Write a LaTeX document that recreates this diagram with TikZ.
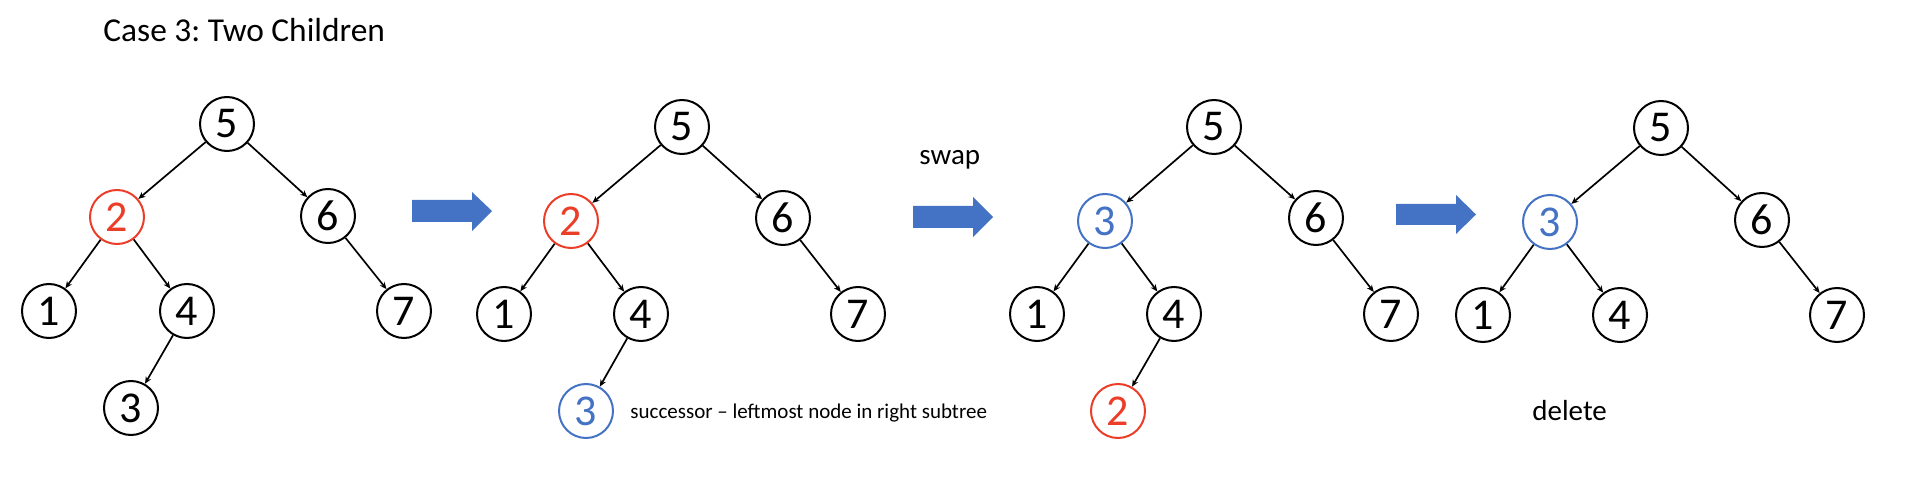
\documentclass[tikz,border=0pt]{standalone}
\usepackage{fontspec}
\setmainfont{Carlito}
\usetikzlibrary{arrows.meta}
\frenchspacing
\definecolor{redc}{RGB}{235,61,40}
\definecolor{bluec}{RGB}{68,114,196}
\tikzset{
  tn/.style={circle,draw=black,line width=1pt,minimum size=27pt,inner sep=0pt,font=\fontsize{22}{22}\selectfont},
  rednode/.style={tn,draw=redc,text=redc},
  bluenode/.style={tn,draw=bluec,text=bluec},
  edge/.style={line width=0.85pt,-{Stealth[length=3.5pt,width=3pt]}},
  lbl/.style={anchor=base west,inner sep=0pt},
  blockarrow/.style={fill=bluec,draw=none}
}
\begin{document}
\begin{tikzpicture}[x=0.5pt,y=-0.5pt]
\useasboundingbox (0,0) rectangle (1910,486);
% title
\node[lbl,font=\fontsize{16.7}{20}\selectfont] (title) at (103,42) {Case 3: Two Children};
% tree 1
\node[tn] (a5) at (227,124) {5};
\node[rednode] (a2) at (117,217) {2};
\node[tn] (a6) at (328,216) {6};
\node[tn] (a1) at (49,311) {1};
\node[tn] (a4) at (187,311) {4};
\node[tn] (a7) at (404,311) {7};
\node[tn] (a3) at (131,408) {3};
\draw[edge] (a5) -- (a2);
\draw[edge] (a5) -- (a6);
\draw[edge] (a2) -- (a1);
\draw[edge] (a2) -- (a4);
\draw[edge] (a6) -- (a7);
\draw[edge] (a4) -- (a3);
% arrow 1
\fill[blockarrow] (412,200) -- (472,200) -- (472,192) -- (492,211) -- (472,231) -- (472,222) -- (412,222) -- cycle;
% tree 2
\node[tn] (b5) at (682,127) {5};
\node[rednode] (b2) at (571,221) {2};
\node[tn] (b6) at (783,218) {6};
\node[tn] (b1) at (504,314) {1};
\node[tn] (b4) at (641,314) {4};
\node[tn] (b7) at (858,314) {7};
\node[bluenode] (b3) at (586,411) {3};
\draw[edge] (b5) -- (b2);
\draw[edge] (b5) -- (b6);
\draw[edge] (b2) -- (b1);
\draw[edge] (b2) -- (b4);
\draw[edge] (b6) -- (b7);
\draw[edge] (b4) -- (b3);
\node[lbl,font=\fontsize{10.5}{12}\selectfont] (succ) at (630,418) {successor – leftmost node in right subtree};
% swap + arrow 2
\node[lbl,font=\fontsize{14.5}{17}\selectfont] (swap) at (919,165) {swap};
\fill[blockarrow] (913,206) -- (973,206) -- (973,197) -- (993,217) -- (973,237) -- (973,228) -- (913,228) -- cycle;
% tree 3
\node[tn] (c5) at (1214,127) {5};
\node[bluenode] (c3) at (1105,221) {3};
\node[tn] (c6) at (1316,218) {6};
\node[tn] (c1) at (1037,314) {1};
\node[tn] (c4) at (1174,314) {4};
\node[tn] (c7) at (1391,314) {7};
\node[rednode] (c2) at (1118,411) {2};
\draw[edge] (c5) -- (c3);
\draw[edge] (c5) -- (c6);
\draw[edge] (c3) -- (c1);
\draw[edge] (c3) -- (c4);
\draw[edge] (c6) -- (c7);
\draw[edge] (c4) -- (c2);
% arrow 3
\fill[blockarrow] (1396,204) -- (1456,204) -- (1456,195) -- (1476,214.5) -- (1456,234) -- (1456,225) -- (1396,225) -- cycle;
% tree 4
\node[tn] (d5) at (1661,128) {5};
\node[bluenode] (d3) at (1550,222) {3};
\node[tn] (d6) at (1762,220) {6};
\node[tn] (d1) at (1483,315) {1};
\node[tn] (d4) at (1620,315) {4};
\node[tn] (d7) at (1837,315) {7};
\draw[edge] (d5) -- (d3);
\draw[edge] (d5) -- (d6);
\draw[edge] (d3) -- (d1);
\draw[edge] (d3) -- (d4);
\draw[edge] (d6) -- (d7);
\node[lbl,font=\fontsize{14.5}{17}\selectfont] (del) at (1532,420) {delete};
\end{tikzpicture}
\end{document}
